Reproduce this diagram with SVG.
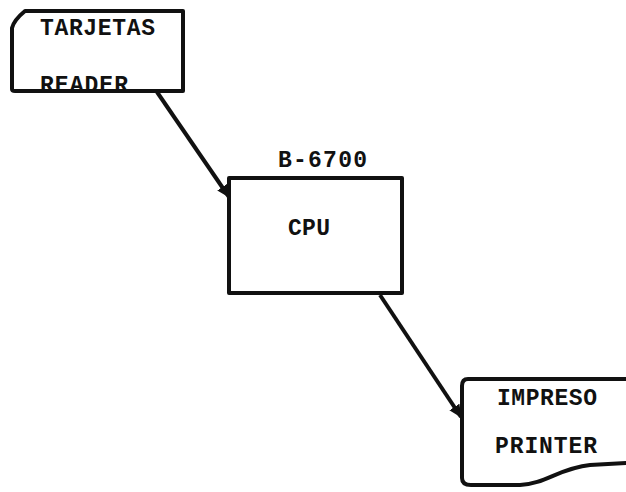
<svg xmlns="http://www.w3.org/2000/svg" width="626" height="492" viewBox="0 0 626 492">
<style>
.shape{fill:#fff;stroke:#111;stroke-width:4;stroke-linejoin:round}
.lbl{font-family:"Liberation Mono","Courier New",monospace;font-weight:bold;font-size:23px;fill:#111}
.conn{stroke:#111;stroke-width:4;fill:none}
</style>
<defs>
<marker id="ah" markerUnits="userSpaceOnUse" markerWidth="14" markerHeight="14" viewBox="0 -7 14 14" refX="12" refY="0" orient="auto">
<path d="M0,-6 L13,0 L0,6 z" fill="#111"/>
</marker>
</defs>
<rect width="626" height="492" fill="#fff"/>
<g id="connectors">
<line class="conn" x1="157" y1="92" x2="229" y2="197" marker-end="url(#ah)"/>
<line class="conn" x1="380" y1="295" x2="461" y2="417" marker-end="url(#ah)"/>
</g>
<g id="reader">
<path class="shape" d="M12 89 L12 28 Q14 20 25 11 L183 11 L183 91 L15 91 Q12 91 12 89 Z"/>
<text class="lbl" x="40" y="35" textLength="115" lengthAdjust="spacing">TARJETAS</text>
<text class="lbl" x="40" y="92" textLength="88" lengthAdjust="spacing">READER</text>
</g>
<g id="cpu">
<rect class="shape" x="229" y="178" width="173" height="115"/>
<text class="lbl" x="278" y="167" textLength="89" lengthAdjust="spacing">B-6700</text>
<text class="lbl" x="288" y="235" textLength="42" lengthAdjust="spacing">CPU</text>
</g>
<g id="printer">
<path class="shape" d="M628 379 L468 379 Q462 379 462 386 L462 478 Q462 485 471 485 L520 485 C545 484 560 468 590 465 L628 463"/>
<text class="lbl" x="497" y="405" textLength="100" lengthAdjust="spacing">IMPRESO</text>
<text class="lbl" x="495" y="453" textLength="102" lengthAdjust="spacing">PRINTER</text>
</g>
</svg>
